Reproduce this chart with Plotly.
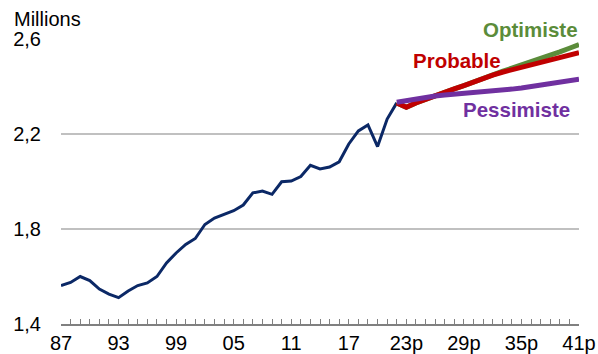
import plotly.graph_objects as go

# ---- data ----
hist_years = list(range(1987, 2023))
hist_vals = [1.562, 1.575, 1.600, 1.583, 1.547, 1.526, 1.511, 1.539, 1.562, 1.573,
             1.600, 1.657, 1.699, 1.735, 1.760, 1.819, 1.846, 1.863, 1.877, 1.901,
             1.952, 1.960, 1.946, 1.999, 2.002, 2.021, 2.068, 2.053, 2.061, 2.083,
             2.158, 2.213, 2.238, 2.147, 2.263, 2.331]

proj_years = list(range(2022, 2042))
probable = [2.331, 2.313, 2.331, 2.347, 2.362, 2.376, 2.390, 2.404, 2.420, 2.434,
            2.448, 2.460, 2.470, 2.480, 2.490, 2.500, 2.510, 2.520, 2.531, 2.542]
optimiste = [2.331, 2.313, 2.331, 2.347, 2.362, 2.376, 2.390, 2.404, 2.420, 2.434,
             2.450, 2.464, 2.477, 2.490, 2.503, 2.517, 2.531, 2.546, 2.561, 2.577]
pessimiste = [2.334, 2.341, 2.349, 2.355, 2.360, 2.364, 2.367, 2.370, 2.373, 2.376,
              2.380, 2.384, 2.389, 2.394, 2.400, 2.406, 2.412, 2.418, 2.424, 2.431]

tick_years = list(range(1987, 2042))
label_years = [1987, 1993, 1999, 2005, 2011, 2017, 2023, 2029, 2035, 2041]
label_text = ["87", "93", "99", "05", "11", "17", "23p", "29p", "35p", "41p"]
y_ticks = [1.4, 1.8, 2.2, 2.6]
y_text = ["1,4", "1,8", "2,2", "2,6"]

NAVY = "#0b2866"
GREEN = "#5b8c3a"
RED = "#c00000"
PURPLE = "#7030a0"
FONT = "Liberation Sans, Arial, sans-serif"
FS = 20
FS_B = 20.5

ticktext = [label_text[label_years.index(y)] if y in label_years else "" for y in tick_years]

fig = go.Figure()
fig.add_trace(go.Scatter(x=hist_years, y=hist_vals, mode="lines",
                         line=dict(color=NAVY, width=3), cliponaxis=False))
fig.add_trace(go.Scatter(x=proj_years, y=optimiste, mode="lines",
                         line=dict(color=GREEN, width=5), cliponaxis=False))
fig.add_trace(go.Scatter(x=proj_years, y=probable, mode="lines",
                         line=dict(color=RED, width=5), cliponaxis=False))
fig.add_trace(go.Scatter(x=proj_years, y=pessimiste, mode="lines",
                         line=dict(color=PURPLE, width=5), cliponaxis=False))

annots = [
    (0.9060, 1.0316, "<b>Optimiste</b>", GREEN),
    (0.7645, 0.9263, "<b>Probable</b>", RED),
    (0.8803, 0.7509, "<b>Pessimiste</b>", PURPLE),
]
for x, y, t, c in annots:
    fig.add_annotation(x=x, y=y, text=t, showarrow=False,
                       xref="paper", yref="paper", xanchor="center", yanchor="middle",
                       font=dict(family=FONT, size=FS_B, color=c))

fig.add_annotation(x=-0.094, y=1.0695, xref="paper", yref="paper", text="Millions",
                   showarrow=False, xanchor="left", yanchor="middle",
                   font=dict(family=FONT, size=FS, color="#000000"))

fig.update_layout(
    width=598, height=354,
    margin=dict(l=61, r=19, t=39, b=30, autoexpand=False),
    paper_bgcolor="white", plot_bgcolor="white",
    showlegend=False,
    font=dict(family=FONT, size=FS, color="#000000"),
)
fig.update_xaxes(range=[1987, 2041], tickmode="array", tickvals=tick_years,
                 ticktext=ticktext, ticks="inside", ticklen=5, tickwidth=1,
                 tickcolor="#808080", showline=True, linecolor="#808080", linewidth=1.5,
                 showgrid=False, zeroline=False, tickangle=0, automargin=False,
                 tickfont=dict(family=FONT, size=FS, color="#000000"))
fig.update_yaxes(range=[1.4, 2.6], tickmode="array", tickvals=y_ticks, ticktext=y_text,
                 showgrid=True, gridcolor="#c0c0c0", gridwidth=2, zeroline=False,
                 showline=False, ticks="", ticklabelstandoff=19, automargin=False,
                 tickfont=dict(family=FONT, size=FS, color="#000000"))

fig.write_html("out.html")
